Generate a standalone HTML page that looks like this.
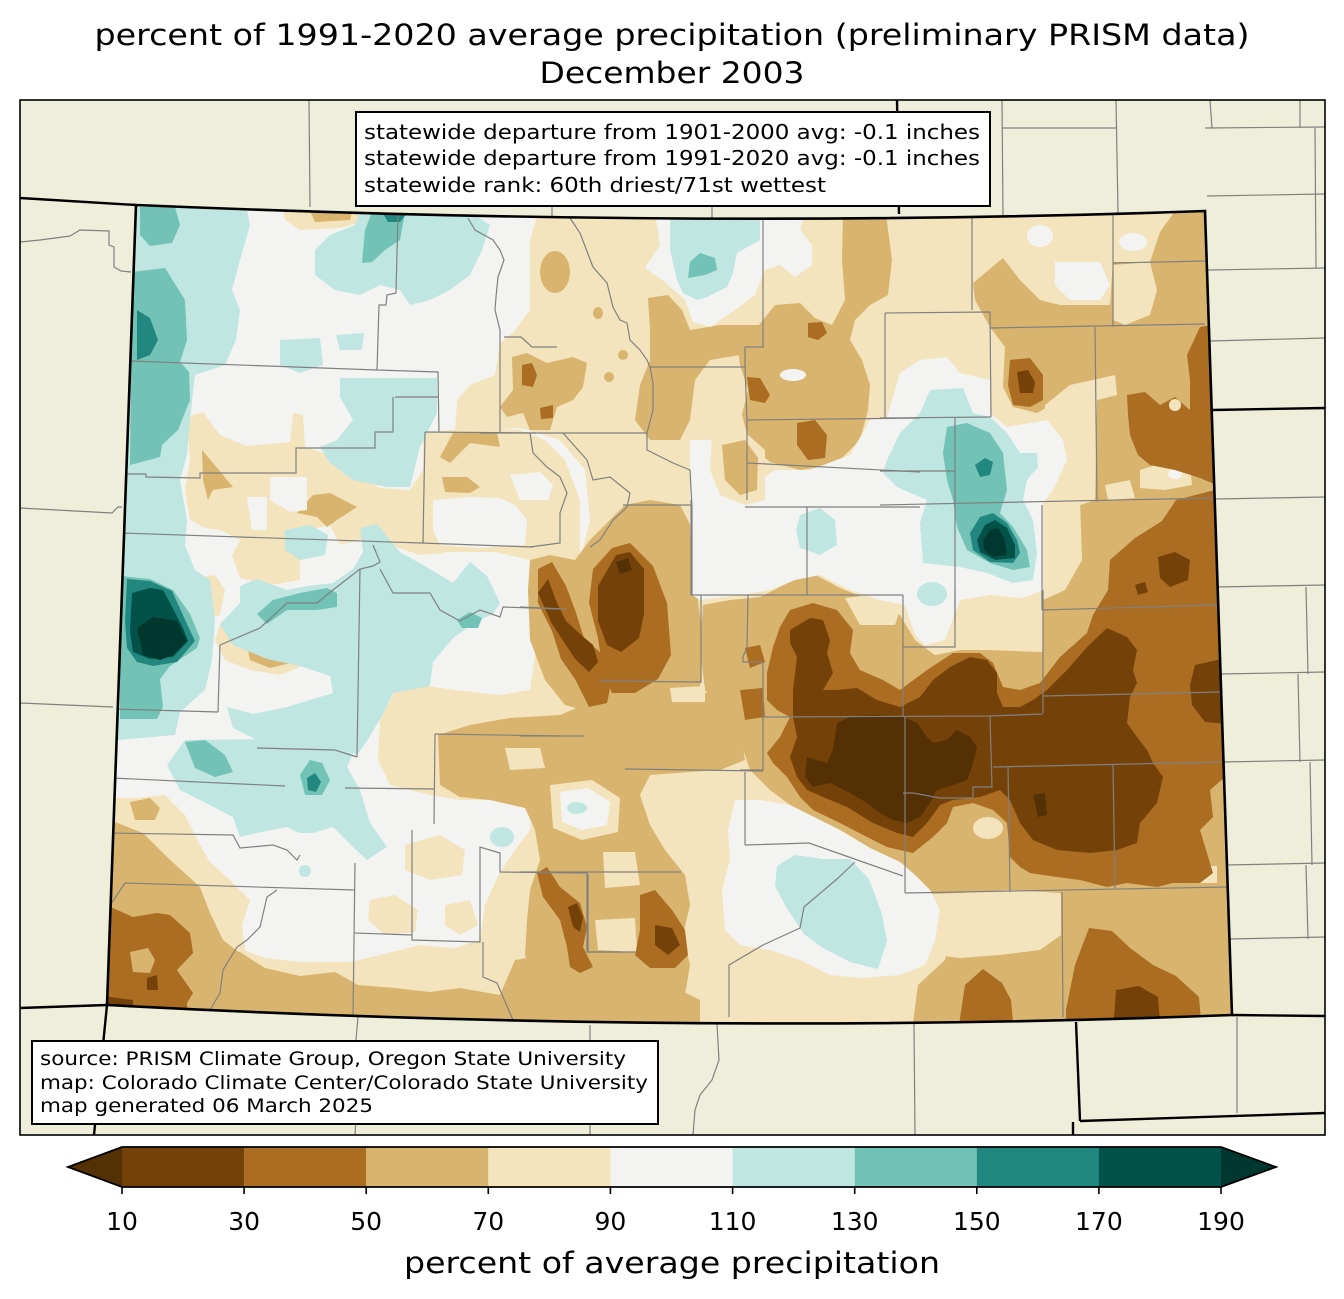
<!DOCTYPE html>
<html>
<head>
<meta charset="utf-8">
<style>
html,body{margin:0;padding:0;background:#fff;}
svg{display:block;}
text{font-family:"DejaVu Sans","Liberation Sans",sans-serif;fill:#000;}
</style>
</head>
<body>
<svg width="1344" height="1299" viewBox="0 0 1344 1299" xmlns="http://www.w3.org/2000/svg">
<defs>
<clipPath id="co"><path d="M136,205 Q700,229 1205,211 L1232,1015 Q690,1036 107,1005 Z"/></clipPath>
<clipPath id="fr"><rect x="20" y="100" width="1305" height="1035"/></clipPath>
</defs>
<rect width="1344" height="1299" fill="#fff"/>

<text x="672" y="45" font-size="29" text-anchor="middle" textLength="1155" lengthAdjust="spacingAndGlyphs">percent of 1991-2020 average precipitation (preliminary PRISM data)</text>
<text x="672" y="83" font-size="29" text-anchor="middle" textLength="265" lengthAdjust="spacingAndGlyphs">December 2003</text>

<rect x="20" y="100" width="1305" height="1035" fill="#efeeda"/>

<g clip-path="url(#fr)" fill="none" stroke="#808080" stroke-width="1.2">
<polyline points="309,100 310,207"/>
<polyline points="20,242 40,240 55,238 70,236 80,230 109,231 109,245 114,247 114,267 121,271 131,272"/>
<polyline points="20,508 112,513 118,507 122,507"/>
<polyline points="20,703 113,707"/>
<polyline points="552,200 552,216"/><polyline points="712,200 712,218"/>
<polyline points="1002,100 1003,215"/><polyline points="1116,100 1118,213"/>
<polyline points="1002,128 1116,128"/><polyline points="1210,100 1212,128"/><polyline points="1300,100 1300,128"/>
<polyline points="1205,128 1325,127"/><polyline points="1207,196 1325,194"/><polyline points="1208,270 1325,268"/><polyline points="1210,341 1325,338"/>
<polyline points="1315,128 1316,268"/>
<polyline points="1215,499 1325,497"/><polyline points="1217,587 1325,585"/><polyline points="1221,674 1325,672"/><polyline points="1223,762 1325,760"/><polyline points="1226,865 1325,863"/><polyline points="1229,939 1325,937"/>
<polyline points="1306,587 1308,674"/><polyline points="1298,674 1300,762"/><polyline points="1310,762 1312,865"/><polyline points="1306,865 1308,939"/>
<polyline points="1237,1017 1237,1113"/>
<polyline points="358,1017 356,1040 360,1060 357,1100 355,1135"/>
<polyline points="590,1025 590,1135"/>
<polyline points="717,1024 719,1060 712,1080 700,1095 695,1110 693,1135"/>
<polyline points="914,1024 915,1135"/>
</g>

<g clip-path="url(#co)">
<rect x="90" y="190" width="1170" height="860" fill="#f3e4bd"/>
<polygon fill="#f3f4f2" points="95,190 545,190 530,240 530,310 513,333 500,343 495,375 470,385 457,400 455,432 520,428 560,440 585,470 590,520 580,560 545,565 535,600 536,650 530,690 500,695 455,690 420,685 395,690 380,720 378,760 390,785 430,795 460,800 500,800 533,805 530,830 515,850 500,872 485,905 480,940 455,948 420,945 380,955 350,962 300,962 265,958 245,950 242,925 250,900 230,880 210,862 200,845 185,815 165,795 135,798 95,798"/>
<g fill="#f3e4bd">
<polygon points="282,204 357,204 362,222 340,228 300,230 285,220"/>
<polygon points="187,417 203,412 220,435 247,446 290,442 293,413 303,415 305,447 330,455 345,470 380,488 410,490 423,470 440,500 450,530 445,553 420,555 390,545 360,540 340,545 330,525 310,530 300,545 300,580 270,585 240,578 232,555 240,540 220,530 205,528 190,520 185,490 190,460"/>
<polygon points="423,433 470,428 520,430 545,440 565,460 580,500 580,560 530,560 495,552 423,552"/>
<polygon points="220,625 250,615 290,620 310,640 305,665 280,675 250,670 225,660 215,640"/>
<polygon points="185,580 215,575 225,590 220,615 200,620 188,605"/>
</g>
<g fill="#d8b46e">
<polygon points="307,204 354,204 350,220 315,222"/>
<polygon points="202,450 213,463 233,487 213,490 208,500 203,480"/>
<polygon points="297,513 313,495 330,493 357,507 337,520 327,527 317,517"/>
<polygon points="440,457 453,433 497,433 500,447 470,443 450,463"/>
<polygon points="442,477 467,477 480,487 470,493 445,492"/>
<polygon points="245,635 280,630 300,645 295,662 270,668 250,660"/>
<polygon points="843,214 886,214 892,260 888,295 870,305 855,320 850,340 862,360 870,385 868,410 860,440 835,465 800,470 770,462 750,445 742,415 748,390 740,365 738,350 755,330 775,305 800,303 815,318 832,325 845,300 842,260"/>
<polygon points="648,298 668,295 682,310 690,330 720,325 760,325 765,345 740,355 710,360 695,380 690,420 680,440 650,440 635,420 640,385 650,360 650,330"/>
<polygon points="512,357 527,353 547,363 573,357 587,363 583,387 573,400 557,407 550,430 530,430 523,413 507,417 500,407 513,390"/>
<ellipse cx="555" cy="272" rx="15" ry="21"/>
<ellipse cx="598" cy="313" rx="5" ry="6"/><ellipse cx="623" cy="355" rx="5" ry="5"/><ellipse cx="609" cy="377" rx="5" ry="5"/>
<polygon points="590,540 610,520 625,505 650,500 680,505 693,530 700,560 698,600 703,640 700,690 660,700 620,710 590,712 565,705 545,680 530,640 528,590 530,560 550,555 575,560"/>
<polygon points="438,735 470,725 510,718 560,715 595,700 640,690 700,690 720,700 740,730 745,760 720,770 690,772 650,775 640,795 650,825 665,850 685,875 690,905 683,935 690,965 685,995 660,1005 625,995 600,985 560,990 535,985 525,955 527,920 530,890 540,860 535,830 525,808 490,800 460,797 440,785"/>
<polygon points="195,945 240,952 265,968 300,976 335,972 358,985 395,988 430,992 460,988 500,995 515,960 545,955 560,985 600,980 620,990 650,1000 680,990 700,1000 700,1045 195,1045"/>
<polygon points="95,815 115,822 143,833 167,857 200,887 210,913 223,940 240,953 240,1045 95,1045"/>
<polygon points="130,802 150,798 160,808 155,820 135,820"/>
<polygon points="703,605 730,600 760,597 790,582 810,572 840,588 870,600 900,615 915,640 935,655 960,650 990,650 1043,652 1043,600 1065,590 1080,560 1080,505 1095,500 1097,390 1080,390 1060,400 1037,413 1013,407 1003,387 1005,347 990,327 975,300 973,283 1003,258 1020,280 1040,300 1060,305 1110,305 1113,262 1150,262 1160,232 1175,211 1250,200 1250,1045 910,1045 918,985 945,960 950,930 940,905 930,890 915,875 900,862 870,848 840,830 810,815 790,805 770,790 750,770 740,740 720,710 705,690 700,650"/>
</g>
<g fill="#f3e4bd">
<polygon points="505,748 540,748 545,768 510,770"/>
<polygon points="603,852 635,852 640,885 605,888"/>
<polygon points="595,920 635,918 637,952 598,950"/>
<polygon points="670,688 705,686 705,702 672,702"/>
<polygon points="550,785 592,780 620,798 618,832 582,840 553,828"/>
<polygon points="1045,405 1070,385 1115,375 1117,395 1097,400 1095,500 1080,505 1043,505"/>
<polygon points="1043,500 1080,500 1082,560 1065,590 1043,600"/>
<polygon points="950,600 960,590 1000,595 1043,595 1043,652 990,650 960,650 935,655 915,640 905,610"/>
<polygon points="845,598 870,595 900,610 895,625 860,625"/>
<polygon points="1105,485 1130,480 1135,498 1108,500"/>
<polygon points="1140,470 1165,462 1190,465 1192,485 1165,490 1140,488"/>
<polygon points="1113,265 1150,262 1157,290 1150,315 1125,325 1113,320"/>
<polygon points="905,895 960,893 1010,890 1061,893 1061,935 1040,950 1000,955 960,958 935,955 940,930 930,905"/>
<polygon points="1176,866 1217,866 1217,883 1176,883"/>
<ellipse cx="988" cy="828" rx="15" ry="11"/>
</g>
<g fill="#f3f4f2">
<polygon points="270,477 307,477 307,510 290,512 270,500"/>
<polygon points="247,497 267,497 267,530 252,530"/>
<polygon points="433,500 470,497 500,498 515,505 527,520 525,545 480,548 440,545 433,530"/>
<polygon points="510,475 540,472 553,485 548,500 520,500"/>
<polygon points="560,792 588,788 610,802 607,825 582,830 562,822"/>
<polygon points="690,440 720,440 740,500 760,480 775,470 810,470 850,455 870,420 887,417 900,373 920,360 947,357 960,373 990,380 990,413 1007,427 1047,420 1063,440 1067,460 1053,490 1043,503 1043,590 1023,598 990,595 960,600 945,640 925,645 915,635 905,605 880,600 850,590 820,575 795,580 770,590 740,595 700,600 692,595 690,520"/>
<polygon points="655,212 660,245 645,268 665,282 685,300 693,322 710,327 735,310 755,295 765,270 780,265 795,277 812,265 812,245 800,230 805,212"/>
<polygon points="735,800 760,800 790,805 810,815 840,830 870,848 900,862 915,875 930,890 940,910 935,940 925,965 900,975 860,978 830,975 800,960 770,950 740,945 725,930 722,890 730,860 728,830"/>
<ellipse cx="1040" cy="236" rx="13" ry="11"/>
<ellipse cx="1133" cy="242" rx="14" ry="9"/>
<polygon points="1055,262 1100,262 1110,285 1100,300 1070,300 1055,285"/>
<ellipse cx="1175" cy="474" rx="7" ry="5"/>
<ellipse cx="793" cy="375" rx="13" ry="6"/>
</g>
<g fill="#bfe6e1">
<polygon points="128,200 245,200 250,225 240,260 232,290 240,310 236,340 225,365 195,375 190,420 187,455 180,480 187,520 185,545 195,570 210,580 215,620 212,660 205,690 180,712 175,735 118,740 110,500"/>
<polygon points="315,250 330,235 355,225 360,212 470,212 490,225 482,250 470,275 450,290 430,300 410,305 400,290 380,285 360,295 335,290 315,275"/>
<polygon points="340,378 437,378 437,413 420,447 410,487 387,487 353,480 330,463 320,447 337,440 353,420 340,397"/>
<polygon points="280,340 320,338 323,365 300,373 280,365"/>
<polygon points="336,335 364,333 362,350 340,350"/>
<polygon points="285,530 310,525 328,535 325,555 300,560 285,550"/>
<polygon points="240,586 257,579 287,590 307,586 333,583 353,569 363,552 360,528 377,524 400,552 430,569 453,583 470,562 487,576 500,603 493,614 477,621 453,638 433,662 430,686 393,693 383,714 367,741 357,755 333,741 300,741 273,748 233,728 227,707 253,714 287,707 333,693 330,676 300,666 267,659 233,645 220,624 240,603"/>
<polygon points="167,765 185,740 360,738 347,767 360,790 370,823 387,847 367,860 353,847 333,827 313,833 300,833 287,827 257,833 240,837 233,817 200,800 180,790"/>
<polygon points="883,473 887,460 900,433 920,413 930,390 963,388 973,413 990,417 1007,433 1020,453 1037,453 1038,467 1027,480 1023,500 1033,520 1037,553 1033,580 1013,583 987,573 960,567 923,563 920,523 927,500 897,487"/>
<ellipse cx="932" cy="594" rx="15" ry="12"/>
<polygon points="800,515 820,508 835,520 837,545 820,555 800,548 796,530"/>
<polygon points="670,217 760,217 760,240 737,253 733,273 727,287 707,297 697,300 683,293 677,280 670,250"/>
<polygon points="777,866 795,855 823,859 850,859 869,879 882,914 887,941 878,969 850,962 823,948 804,934 786,907 775,886"/>
<ellipse cx="502" cy="837" rx="12" ry="10"/>
<ellipse cx="305" cy="871" rx="6" ry="6"/>
<ellipse cx="577" cy="808" rx="10" ry="6"/>
</g>
<g fill="#72c2b5">
<polygon points="140,207 175,207 180,225 172,243 150,246 140,235"/>
<polygon points="132,272 165,268 185,300 187,340 180,362 189,372 190,400 178,430 162,445 160,457 130,465"/>
<polygon points="120,576 150,579 173,590 190,614 200,638 197,648 170,666 160,679 163,707 157,719 120,719"/>
<polygon points="362,263 365,230 372,212 405,212 400,240 385,250 372,262"/>
<polygon points="257,614 273,600 300,593 327,588 337,593 337,607 317,610 287,610 267,624"/>
<polygon points="457,620 470,612 482,618 478,628 462,628"/>
<polygon points="185,742 205,740 225,755 233,772 215,777 195,768"/>
<polygon points="300,775 310,760 322,763 330,780 322,795 305,795"/>
<polygon points="947,427 967,423 990,433 1003,453 1007,490 1000,513 1013,527 1027,550 1030,567 1013,570 990,563 967,550 957,527 953,500 947,480 943,453"/>
<polygon points="690,262 700,253 715,258 717,270 705,275 688,278"/>
</g>
<g fill="#22877f">
<polygon points="137,310 150,318 158,340 150,355 137,360"/>
<polygon points="127,579 150,581 172,591 187,624 195,641 177,662 153,666 137,662 127,648 125,621"/>
<polygon points="382,212 408,212 400,222 388,222"/>
<polygon points="307,778 315,773 321,782 316,792 308,790"/>
<polygon points="975,465 985,458 993,462 990,475 980,477"/>
<polygon points="970,533 980,517 993,513 1007,523 1017,540 1020,553 1013,563 990,562 973,550"/>
</g>
<g fill="#02524a">
<polygon points="132,593 150,588 163,590 170,603 183,628 188,641 173,657 150,659 133,652 130,631"/>
<polygon points="977,540 985,525 995,520 1007,528 1015,545 1015,558 995,560 980,552"/>
</g>
<g fill="#00372e">
<polygon points="137,628 153,617 177,621 187,641 173,655 160,660 143,655"/>
<polygon points="983,540 990,530 998,528 1005,540 1007,555 993,557 984,550"/>
</g>
<g fill="#f3e4bd">
<polygon points="712,435 745,432 765,450 765,500 745,505 720,495 710,470"/>
<polygon points="405,845 440,835 465,850 462,875 430,880 405,870"/>
<polygon points="445,905 470,900 478,925 460,935 445,925"/>
<polygon points="370,900 395,895 418,910 415,932 385,935 368,920"/>
</g>
<polygon fill="#d8b46e" points="722,445 745,440 758,458 757,490 740,495 725,480"/>
<g fill="#ab6d22">
<polygon points="522,365 532,363 537,375 533,387 522,385"/>
<polygon points="540,408 553,405 553,418 541,419"/>
<polygon points="797,423 815,420 827,435 825,458 808,460 797,445"/>
<polygon points="747,377 760,378 770,395 765,403 750,400"/>
<polygon points="808,323 822,322 827,333 818,340 808,337"/>
<polygon points="1010,360 1030,358 1043,375 1043,400 1030,407 1013,405 1008,385"/>
<polygon points="538,569 552,562 566,586 575,610 584,638 603,655 612,679 607,703 589,707 575,679 561,659 552,631 538,603"/>
<polygon points="593,569 612,548 630,543 653,566 667,603 671,655 658,679 635,693 612,693 603,672 598,638 589,603"/>
<polygon points="537,873 547,867 560,887 580,903 587,927 583,947 593,967 580,973 570,967 567,947 560,920 543,897"/>
<polygon points="640,895 655,890 672,910 685,930 688,955 675,968 650,968 635,955 640,930"/>
<polygon points="95,900 133,917 157,913 170,915 190,933 193,953 177,970 193,993 187,1003 190,1045 95,1045"/>
<polygon points="1127,395 1145,392 1160,405 1175,397 1190,410 1190,380 1187,355 1200,327 1240,320 1240,495 1200,478 1175,470 1150,465 1138,455 1130,435 1128,415"/>
<polygon points="1215,490 1240,488 1240,777 1225,777 1210,790 1213,817 1200,830 1213,873 1200,883 1173,883 1157,887 1127,883 1107,887 1080,880 1057,877 1030,873 1020,867 1010,857 1007,823 993,810 973,803 953,807 947,823 933,837 913,853 887,847 867,837 840,823 813,810 800,797 787,777 773,763 767,753 780,737 790,717 777,710 767,700 767,673 773,647 780,627 790,610 813,603 837,610 853,630 850,653 860,670 883,680 900,690 927,670 953,653 980,653 993,663 1003,687 1020,690 1040,683 1060,657 1087,633 1093,615 1108,590 1110,560 1135,538 1162,521 1176,500"/>
<polygon points="745,648 760,645 765,662 750,668"/>
<polygon points="740,690 763,688 765,717 745,720"/>
<polygon points="1066,1045 1066,1010 1075,965 1089,928 1112,931 1130,948 1153,965 1176,976 1199,997 1203,1045"/>
<polygon points="956,1045 965,985 983,969 1002,983 1011,1000 1015,1045"/>
</g>
<polygon fill="#d8b46e" points="130,952 148,948 155,960 150,973 133,972"/>
<ellipse fill="#f3e4bd" cx="1175" cy="405" rx="6" ry="6"/>
<g fill="#744209">
<polygon points="538,593 548,579 557,603 566,621 580,634 593,645 598,662 589,672 575,659 566,645 552,624"/>
<polygon points="598,586 616,555 630,552 644,569 644,614 639,638 621,652 607,645 598,621"/>
<polygon points="790,643 790,630 810,618 823,620 830,640 827,653 833,673 823,690 837,690 857,688 877,700 900,707 920,697 933,680 950,667 970,657 987,660 997,673 997,693 1003,707 1020,707 1033,700 1047,690 1067,670 1087,647 1107,628 1127,637 1137,650 1133,670 1137,683 1130,697 1127,723 1137,737 1147,750 1153,763 1163,777 1157,803 1140,823 1137,843 1117,850 1090,853 1057,850 1033,840 1020,823 1010,800 1000,790 980,797 953,800 940,805 927,823 913,837 897,833 873,823 847,807 823,797 807,790 797,777 790,757 797,737 793,717 793,690 797,657"/>
<polygon points="1195,665 1240,655 1240,725 1205,722 1192,705 1190,685"/>
<polygon points="1158,557 1175,552 1190,560 1188,580 1170,587 1160,578"/>
<polygon points="1135,585 1145,582 1148,592 1138,595"/>
<polygon points="147,978 157,975 158,990 147,990"/>
<polygon points="95,995 133,1000 133,1045 95,1045"/>
<polygon points="568,907 577,903 583,917 580,932 573,927"/>
<polygon points="655,925 672,928 680,945 668,955 655,945"/>
<polygon points="1017,372 1028,370 1035,382 1033,393 1020,393"/>
<polygon points="1112,1045 1116,990 1139,986 1158,997 1162,1045"/>
</g>
<g fill="#543005">
<polygon points="616,562 628,558 632,570 620,574"/>
<polygon points="807,757 827,763 833,750 837,723 850,717 873,715 903,717 917,723 927,737 933,743 947,740 957,730 970,737 977,747 973,763 967,780 947,787 937,790 930,803 920,817 907,823 893,820 880,813 867,803 850,793 830,783 813,787 805,777"/>
<polygon points="1033,795 1045,793 1047,815 1038,817"/>
</g>
<g fill="none" stroke="#808080" stroke-width="1.2">
<polyline points="398,213 396,293 387,295 386,305 379,305 377,370"/>
<polyline points="130,361 377,370 438,372 439,432"/>
<polyline points="395,397 438,397"/>
<polyline points="393,397 393,432 375,432 375,448 296,448 296,473 200,473 200,478 146,477 146,474 125,474"/>
<polyline points="425,432 536,433"/>
<polyline points="425,432 423,543"/>
<polyline points="121,533 421,543 533,547"/>
<polyline points="468,218 475,230 493,240 500,250 504,260 498,277 496,297 495,310 500,330 500,433"/>
<polyline points="504,337 521,337 532,347 557,347"/>
<polyline points="570,218 580,233 593,267 607,283 613,307 620,320 627,323 630,340 640,350 647,360 650,367 745,367 745,347 763,347 763,218"/>
<polyline points="650,367 653,383 653,410 647,433 647,450 653,453 673,463 690,470 692,507 692,595"/>
<polyline points="480,433 647,433"/>
<polyline points="747,420 920,418"/>
<polyline points="885,313 885,418"/>
<polyline points="745,367 747,420 747,463 747,500"/>
<polyline points="747,463 920,472"/>
<polyline points="745,507 920,507"/>
<polyline points="807,507 807,595"/>
<polyline points="530,433 533,453 547,467 560,477 567,493 560,513 560,543 530,547"/>
<polyline points="563,433 587,460 593,480 610,477 630,493 627,507 613,520 600,540 590,547"/>
<polyline points="623,505 692,505"/>
<polyline points="972,218 972,310"/>
<polyline points="885,313 990,312 991,417"/>
<polyline points="880,418 991,417"/>
<polyline points="1113,213 1113,327"/>
<polyline points="1113,263 1205,261"/>
<polyline points="990,328 1205,324"/>
<polyline points="1095,327 1097,502"/>
<polyline points="880,471 955,471"/>
<polyline points="955,418 955,620"/>
<polyline points="880,505 1213,498"/>
<polyline points="1042,505 1042,610"/>
<polyline points="1042,610 1217,605"/>
<polyline points="691,595 903,595"/>
<polyline points="903,595 903,717"/>
<polyline points="903,647 955,647 955,590"/>
<polyline points="1043,590 1043,713"/>
<polyline points="1043,696 1220,692"/>
<polyline points="763,717 990,716 1043,714"/>
<polyline points="990,716 992,787 973,787 973,798 940,798 913,793 903,793"/>
<polyline points="993,767 1223,762"/>
<polyline points="1008,767 1010,892"/>
<polyline points="1113,765 1115,888"/>
<polyline points="905,717 905,893"/>
<polyline points="905,893 1227,887"/>
<polyline points="1062,892 1063,1017"/>
<polyline points="748,595 747,647 743,657 743,662 763,662 763,717 763,770 740,770"/>
<polyline points="745,845 809,843 903,876"/>
<polyline points="520,607 566,609"/>
<polyline points="520,736 584,736"/>
<polyline points="600,681 701,682 701,595"/>
<polyline points="691,500 691,595"/>
<polyline points="625,769 763,771"/>
<polyline points="745,772 745,845"/>
<polyline points="520,872 681,872"/>
<polyline points="588,874 588,952 635,952"/>
<polyline points="855,862 837,879 804,907 800,928 763,945 729,965 729,1017"/>
<polyline points="220,645 260,628 287,603 317,603 333,590 360,569 373,566 380,562 373,545"/>
<polyline points="220,645 218,712"/>
<polyline points="113,709 218,712"/>
<polyline points="360,569 357,757"/>
<polyline points="257,748 335,750 357,757"/>
<polyline points="380,569 393,593 430,593 440,610 460,621 480,610 500,617 503,607 560,609"/>
<polyline points="112,778 285,786"/>
<polyline points="435,734 560,736"/>
<polyline points="435,734 434,824"/>
<polyline points="108,833 233,835 240,848 273,845 287,850 297,860 300,855"/>
<polyline points="125,883 355,890"/>
<polyline points="125,883 107,910"/>
<polyline points="355,863 353,1017"/>
<polyline points="345,788 435,789"/>
<polyline points="355,933 412,935"/>
<polyline points="412,830 412,940 480,942 480,847 500,853 500,872 587,873 587,952 620,952"/>
<polyline points="483,942 483,977 497,983 513,1020"/>
<polyline points="277,890 267,897 260,927 247,940 237,947 223,970 220,993 210,1010"/>
</g>
</g>

<path d="M136,205 Q700,229 1205,211 L1232,1015 Q690,1036 107,1005 Z" fill="none" stroke="#000" stroke-width="2.6"/>
<g clip-path="url(#fr)" fill="none" stroke="#000" stroke-width="2.4">
<polyline points="20,198 136,205"/>
<polyline points="20,1008 107,1005"/>
<polyline points="107,1005 94,1135"/>
<polyline points="897,100 899,214"/>
<polyline points="1212,410 1325,408"/>
<polyline points="1232,1015 1325,1016"/>
<polyline points="1076,1022 1080,1121"/>
<polyline points="1080,1121 1325,1113"/>
<polyline points="1073,1122 1073,1135"/>
</g>
<rect x="20" y="100" width="1305" height="1035" fill="none" stroke="#000" stroke-width="1.6"/>

<rect x="356" y="112" width="634" height="94" fill="#fff" stroke="#000" stroke-width="2"/>
<text x="364" y="139" font-size="20" textLength="616" lengthAdjust="spacingAndGlyphs">statewide departure from 1901-2000 avg: -0.1 inches</text>
<text x="364" y="165" font-size="20" textLength="616" lengthAdjust="spacingAndGlyphs">statewide departure from 1991-2020 avg: -0.1 inches</text>
<text x="364" y="192" font-size="20" textLength="462" lengthAdjust="spacingAndGlyphs">statewide rank: 60th driest/71st wettest</text>

<rect x="32" y="1041" width="626" height="83" fill="#fff" stroke="#000" stroke-width="2"/>
<text x="40" y="1065" font-size="19" textLength="586" lengthAdjust="spacingAndGlyphs">source: PRISM Climate Group, Oregon State University</text>
<text x="40" y="1089" font-size="19" textLength="608" lengthAdjust="spacingAndGlyphs">map: Colorado Climate Center/Colorado State University</text>
<text x="40" y="1112" font-size="19" textLength="333" lengthAdjust="spacingAndGlyphs">map generated 06 March 2025</text>

<polygon points="68,1167 122,1147 122,1187" fill="#543005"/>
<rect x="122" y="1147" width="122.2" height="40" fill="#744209"/>
<rect x="244.1" y="1147" width="122.2" height="40" fill="#ab6d22"/>
<rect x="366.2" y="1147" width="122.2" height="40" fill="#d8b46e"/>
<rect x="488.3" y="1147" width="122.2" height="40" fill="#f3e4bd"/>
<rect x="610.4" y="1147" width="122.2" height="40" fill="#f3f4f2"/>
<rect x="732.6" y="1147" width="122.2" height="40" fill="#bfe6e1"/>
<rect x="854.7" y="1147" width="122.2" height="40" fill="#72c2b5"/>
<rect x="976.8" y="1147" width="122.2" height="40" fill="#22877f"/>
<rect x="1098.9" y="1147" width="122.1" height="40" fill="#02524a"/>
<polygon points="1221,1147 1276,1167 1221,1187" fill="#00372e"/>
<polygon points="68,1167 122,1147 1221,1147 1276,1167 1221,1187 122,1187" fill="none" stroke="#000" stroke-width="1.8"/>
<g stroke="#000" stroke-width="1.6">
<line x1="122" y1="1187" x2="122" y2="1194"/><line x1="244.1" y1="1187" x2="244.1" y2="1194"/><line x1="366.2" y1="1187" x2="366.2" y2="1194"/><line x1="488.3" y1="1187" x2="488.3" y2="1194"/><line x1="610.4" y1="1187" x2="610.4" y2="1194"/><line x1="732.6" y1="1187" x2="732.6" y2="1194"/><line x1="854.7" y1="1187" x2="854.7" y2="1194"/><line x1="976.8" y1="1187" x2="976.8" y2="1194"/><line x1="1098.9" y1="1187" x2="1098.9" y2="1194"/><line x1="1221" y1="1187" x2="1221" y2="1194"/>
</g>
<g font-size="25" text-anchor="middle">
<text x="122" y="1230">10</text><text x="244.1" y="1230">30</text><text x="366.2" y="1230">50</text><text x="488.3" y="1230">70</text><text x="610.4" y="1230">90</text><text x="732.6" y="1230">110</text><text x="854.7" y="1230">130</text><text x="976.8" y="1230">150</text><text x="1098.9" y="1230">170</text><text x="1221" y="1230">190</text>
</g>
<text x="672" y="1273" font-size="29" text-anchor="middle" textLength="536" lengthAdjust="spacingAndGlyphs">percent of average precipitation</text>
</svg>
</body>
</html>
